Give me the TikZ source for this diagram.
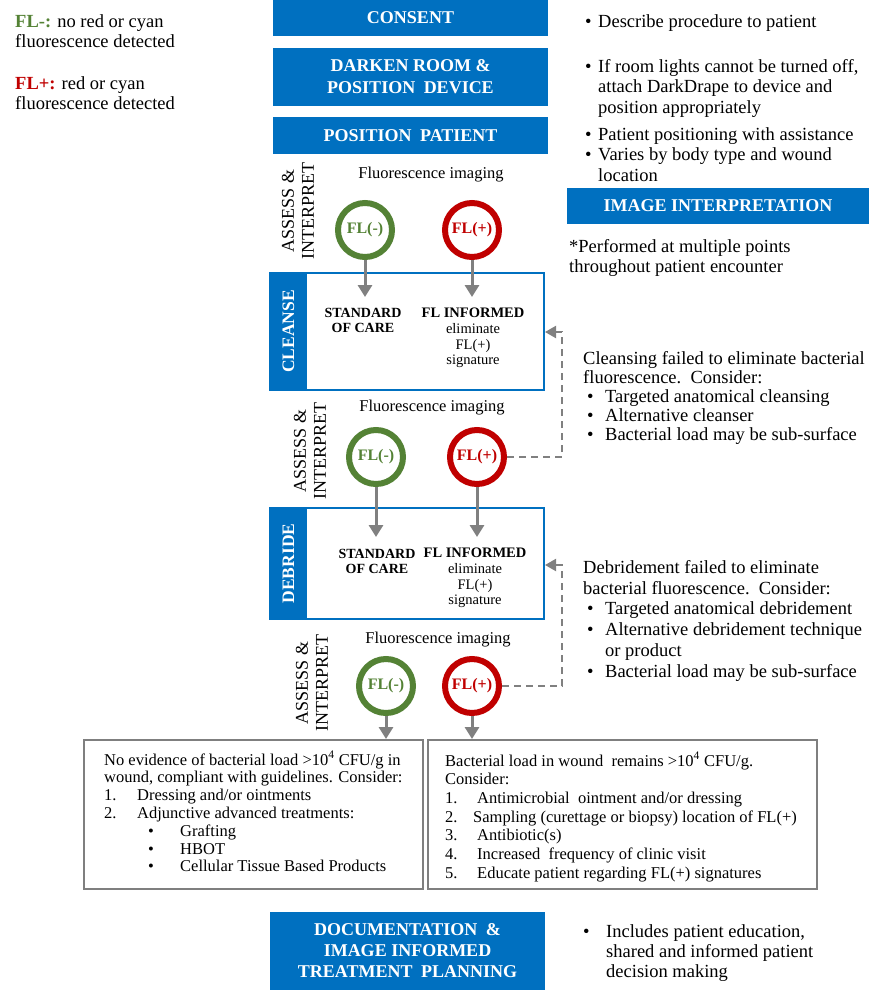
\documentclass[tikz,border=0pt]{standalone}
\usepackage{fontspec}
\setmainfont{Liberation Serif}
\usetikzlibrary{arrows.meta}
\definecolor{blueA}{HTML}{0070C0}
\definecolor{greenA}{HTML}{548235}
\definecolor{redA}{HTML}{C00000}
\definecolor{grayA}{HTML}{808080}
\definecolor{grayB}{HTML}{7F7F7F}
\newcommand{\setfs}[2]{\fontsize{#1}{#2}\selectfont}
\newcommand{\bulbox}[1]{\makebox[#1][l]{\textbullet}}
\begin{document}
\begin{tikzpicture}[x=1pt,y=-1pt,
  hdr/.style={fill=blueA, text=white, inner sep=0pt, align=center, font=\bfseries\setfs{18}{22}},
  body/.style={anchor=north west, inner sep=0pt, align=left, font=\setfs{18.5}{20.5}},
  boxtxt/.style={anchor=north west, inner sep=0pt, align=left, font=\setfs{16.5}{18.5}},
  phase/.style={draw=blueA, line width=1.5pt, inner sep=0pt},
  phasebar/.style={fill=blueA, text=white, inner sep=0pt, rotate=90, font=\bfseries\setfs{17.5}{20}},
  assess/.style={rotate=90, align=center, inner sep=0pt, font=\setfs{18}{20}},
  fimg/.style={inner sep=0pt, font=\setfs{16.5}{18}},
  flneg/.style={circle, draw=greenA, line width=6pt, minimum size=54pt, inner sep=0pt, text=greenA, font=\bfseries\setfs{16}{16}},
  flpos/.style={circle, draw=redA, line width=6pt, minimum size=54pt, inner sep=0pt, text=redA, font=\bfseries\setfs{16}{16}},
  lbl/.style={align=center, inner sep=0pt, font=\setfs{14.5}{15.7}},
  lblb/.style={align=center, inner sep=0pt, font=\bfseries\setfs{14}{15}},
  garrow/.style={draw=grayA, line width=3pt, -{Triangle[length=12pt,width=14pt]}},
  gdash/.style={draw=grayA, line width=2pt, dash pattern=on 7pt off 5pt, -{Triangle[length=11pt,width=12pt]}},
  outbox/.style={draw=grayB, line width=2pt, inner sep=0pt}
]
\useasboundingbox (0,0) rectangle (895,993);
\fill[white] (0,0) rectangle (895,993);

% legend
\node[body] (legneg) at (15,14) {\textcolor{greenA}{\bfseries FL-:} no red or cyan\\fluorescence detected};
\node[body] (legpos) at (15,76) {\textcolor{redA}{\bfseries FL+:} red or cyan\\fluorescence detected};

% headers
\node[hdr, minimum width=275pt, minimum height=36pt] (consent) at (410.5,18) {CONSENT};
\node[hdr, minimum width=275pt, minimum height=58pt] (darken) at (410.5,77) {DARKEN ROOM \&\\POSITION\hspace{4pt} DEVICE};
\node[hdr, minimum width=275pt, minimum height=37pt] (pospat) at (410.5,135.5) {POSITION\hspace{4pt} PATIENT};
\node[hdr, minimum width=302pt, minimum height=36pt] (interp) at (718,206) {IMAGE INTERPRETATION};
\node[hdr, minimum width=275pt, minimum height=78pt, font=\bfseries\setfs{18}{21}] (doc) at (407.5,951) {DOCUMENTATION\hspace{4pt} \&\\IMAGE INFORMED\\TREATMENT\hspace{4pt} PLANNING};

% right notes
\node[body] (tr1) at (585,14) {\bulbox{13pt}Describe procedure to patient};
\node[body] (tr2) at (585,59) {\bulbox{13pt}If room lights cannot be turned off,\\\hspace*{13pt}attach DarkDrape to device and\\\hspace*{13pt}position appropriately};
\node[body] (tr3) at (585,127) {\bulbox{13pt}Patient positioning with assistance\\\bulbox{13pt}Varies by body type and wound\\\hspace*{13pt}location};
\node[body] (perf) at (569,239) {*Performed at multiple points\\throughout patient encounter};

\node[body, font=\setfs{18.5}{19}] (cltxt) at (583,351) {Cleansing failed to eliminate bacterial\\fluorescence.\ \ Consider:\\\hspace*{4pt}\bulbox{18pt}Targeted anatomical cleansing\\\hspace*{4pt}\bulbox{18pt}Alternative cleanser\\\hspace*{4pt}\bulbox{18pt}Bacterial load may be sub-surface};
\node[body, font=\setfs{18.5}{20.8}] (dbtxt) at (583,560) {Debridement failed to eliminate\\bacterial fluorescence.\ \ Consider:\\\hspace*{4pt}\bulbox{18pt}Targeted anatomical debridement\\\hspace*{4pt}\bulbox{18pt}Alternative debridement technique\\\hspace*{22pt}or product\\\hspace*{4pt}\bulbox{18pt}Bacterial load may be sub-surface};
\node[body, font=\setfs{18.5}{20}] (doctxt) at (583,924) {\bulbox{23pt}Includes patient education,\\\hspace*{23pt}shared and informed patient\\\hspace*{23pt}decision making};

% phase boxes
\node[phase, minimum width=274pt, minimum height=117pt] (cleanse) at (407,331.5) {};
\node[phasebar, minimum width=117pt, minimum height=37pt] (cleansebar) at (288.5,331.5) {CLEANSE};
\node[phase, minimum width=274pt, minimum height=111pt] (debride) at (407,563.5) {};
\node[phasebar, minimum width=111pt, minimum height=37pt] (debridebar) at (288.5,563.5) {DEBRIDE};

% assess labels
\node[assess] (as1) at (298,211) {ASSESS \&\\INTERPRET};
\node[assess] (as2) at (310,451) {ASSESS \&\\INTERPRET};
\node[assess] (as3) at (312,683) {ASSESS \&\\INTERPRET};

\node[fimg] (fi1) at (431,175) {Fluorescence imaging};
\node[fimg] (fi2) at (432,408) {Fluorescence imaging};
\node[fimg] (fi3) at (438,640) {Fluorescence imaging};

% circles
\node[flneg] (n1) at (365,230) {FL(-)};
\node[flpos] (p1) at (472,230) {FL(+)};
\node[flneg] (n2) at (376,457) {FL(-)};
\node[flpos] (p2) at (477,457) {FL(+)};
\node[flneg] (n3) at (386,686) {FL(-)};
\node[flpos] (p3) at (472,686) {FL(+)};

% labels in boxes
\node[lblb] (std1) at (363,320.5) {STANDARD\\OF CARE};
\node[lbl] (inf1) at (473,338) {\textbf{FL INFORMED}\\eliminate\\FL(+)\\signature};
\node[lblb] (std2) at (377,561) {STANDARD\\OF CARE};
\node[lbl] (inf2) at (475,578) {\textbf{FL INFORMED}\\eliminate\\FL(+)\\signature};

% bottom boxes
\node[outbox, minimum width=339pt, minimum height=149pt] (nobox) at (253.5,814.5) {};
\node[outbox, minimum width=389pt, minimum height=149pt] (yesbox) at (622.5,814.5) {};
\node[boxtxt, font=\setfs{16.5}{17.8}] (notxt) at (104,751) {No evidence of bacterial load \textgreater10\textsuperscript{4} CFU/g in\\wound, compliant with guidelines. Consider:\\\makebox[33pt][l]{1.}Dressing and/or ointments\\\makebox[33pt][l]{2.}Adjunctive advanced treatments:\\\hspace*{44pt}\makebox[32pt][l]{\textbullet}Grafting\\\hspace*{44pt}\makebox[32pt][l]{\textbullet}HBOT\\\hspace*{44pt}\makebox[32pt][l]{\textbullet}Cellular Tissue Based Products};
\node[boxtxt, font=\setfs{16.5}{18.7}] (yestxt) at (445,752) {Bacterial load in wound\ \ remains \textgreater10\textsuperscript{4} CFU/g.\\Consider:\\\makebox[32pt][l]{1.}Antimicrobial\ \ ointment and/or dressing\\\makebox[28pt][l]{2.}Sampling (curettage or biopsy) location of FL(+)\\\makebox[32pt][l]{3.}Antibiotic(s)\\\makebox[32pt][l]{4.}Increased\ \ frequency of clinic visit\\\makebox[32pt][l]{5.}Educate patient regarding FL(+) signatures};

% arrows
\coordinate (n1t) at (365,297);
\coordinate (p1t) at (472,297);
\coordinate (n2t) at (376,537);
\coordinate (p2t) at (477,537);
\coordinate (n3t) at (386,739);
\coordinate (p3t) at (472,739);
\draw[garrow] (n1.south) -- (n1t);
\draw[garrow] (p1.south) -- (p1t);
\draw[garrow] (n2.south) -- (n2t);
\draw[garrow] (p2.south) -- (p2t);
\draw[garrow] (n3.south) -- (n3t);
\draw[garrow] (p3.south) -- (p3t);

% dashed feedback
\coordinate (d1v) at (562,332);
\coordinate (d1e) at (545,332);
\draw[gdash] (p2.east) -| (d1v) -- (d1e);
\coordinate (d2v) at (562,565);
\coordinate (d2e) at (545,565);
\draw[gdash] (p3.east) -| (d2v) -- (d2e);
\end{tikzpicture}
\end{document}
